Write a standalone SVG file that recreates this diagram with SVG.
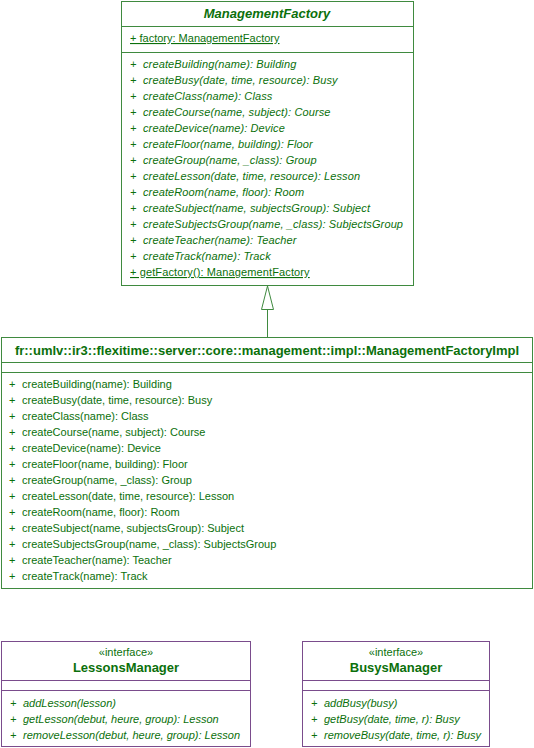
<svg xmlns="http://www.w3.org/2000/svg" width="534" height="748" viewBox="0 0 534 748">
<style>
.box{fill:#ffffff;stroke:#3f8a3f;stroke-width:1}
.ibox{fill:#ffffff;stroke:#7a4c8c;stroke-width:1}
.ln{stroke:#3f8a3f;stroke-width:1;fill:none}
.iln{stroke:#7a4c8c;stroke-width:1;fill:none}
text{font-family:"Liberation Sans",Arial,sans-serif;fill:#0b700b;font-size:11px}
.t{font-weight:bold;font-size:13px;text-anchor:middle}
.ti{font-weight:bold;font-style:italic;font-size:13px;text-anchor:middle}
.st{font-size:11px;text-anchor:middle}
.it{font-style:italic}
.w{letter-spacing:0.12px}
.u{text-decoration:underline}
</style>
<g id="ManagementFactory">
<rect class="box" x="121.5" y="1.5" width="292" height="284"/>
<line class="ln" x1="121.5" y1="26.5" x2="413.5" y2="26.5"/>
<line class="ln" x1="121.5" y1="52.5" x2="413.5" y2="52.5"/>
<text class="ti" x="267" y="18">ManagementFactory</text>
<text class="u" x="130" y="42">+ factory: ManagementFactory </text>
<g class="it w">
<text x="130" y="68">+</text><text x="143" y="68">createBuilding(name): Building</text>
<text x="130" y="84">+</text><text x="143" y="84">createBusy(date, time, resource): Busy</text>
<text x="130" y="100">+</text><text x="143" y="100">createClass(name): Class</text>
<text x="130" y="116">+</text><text x="143" y="116">createCourse(name, subject): Course</text>
<text x="130" y="132">+</text><text x="143" y="132">createDevice(name): Device</text>
<text x="130" y="148">+</text><text x="143" y="148">createFloor(name, building): Floor</text>
<text x="130" y="164">+</text><text x="143" y="164">createGroup(name, _class): Group</text>
<text x="130" y="180">+</text><text x="143" y="180">createLesson(date, time, resource): Lesson</text>
<text x="130" y="196">+</text><text x="143" y="196">createRoom(name, floor): Room</text>
<text x="130" y="212">+</text><text x="143" y="212">createSubject(name, subjectsGroup): Subject</text>
<text x="130" y="228">+</text><text x="143" y="228">createSubjectsGroup(name, _class): SubjectsGroup</text>
<text x="130" y="244">+</text><text x="143" y="244">createTeacher(name): Teacher</text>
<text x="130" y="260">+</text><text x="143" y="260">createTrack(name): Track</text>
</g>
<text class="u w" x="130" y="276">+  getFactory(): ManagementFactory </text>
</g>
<g id="ManagementFactoryImpl">
<rect class="box" x="1.5" y="337.5" width="531" height="251"/>
<line class="ln" x1="1.5" y1="362.5" x2="532.5" y2="362.5"/>
<line class="ln" x1="1.5" y1="372.5" x2="532.5" y2="372.5"/>
<text class="t" x="267" y="354.5">fr::umlv::ir3::flexitime::server::core::management::impl::ManagementFactoryImpl</text>
<text x="9" y="388">+</text><text x="22" y="388">createBuilding(name): Building</text>
<text x="9" y="404">+</text><text x="22" y="404">createBusy(date, time, resource): Busy</text>
<text x="9" y="420">+</text><text x="22" y="420">createClass(name): Class</text>
<text x="9" y="436">+</text><text x="22" y="436">createCourse(name, subject): Course</text>
<text x="9" y="452">+</text><text x="22" y="452">createDevice(name): Device</text>
<text x="9" y="468">+</text><text x="22" y="468">createFloor(name, building): Floor</text>
<text x="9" y="484">+</text><text x="22" y="484">createGroup(name, _class): Group</text>
<text x="9" y="500">+</text><text x="22" y="500">createLesson(date, time, resource): Lesson</text>
<text x="9" y="516">+</text><text x="22" y="516">createRoom(name, floor): Room</text>
<text x="9" y="532">+</text><text x="22" y="532">createSubject(name, subjectsGroup): Subject</text>
<text x="9" y="548">+</text><text x="22" y="548">createSubjectsGroup(name, _class): SubjectsGroup</text>
<text x="9" y="564">+</text><text x="22" y="564">createTeacher(name): Teacher</text>
<text x="9" y="580">+</text><text x="22" y="580">createTrack(name): Track</text>
</g>
<g id="LessonsManager">
<rect class="ibox" x="1.5" y="641.5" width="249" height="105"/>
<line class="iln" x1="1.5" y1="680.5" x2="250.5" y2="680.5"/>
<line class="iln" x1="1.5" y1="690.5" x2="250.5" y2="690.5"/>
<text class="st" x="126" y="656">«interface»</text>
<text class="t" x="126" y="671.5">LessonsManager</text>
<g class="it">
<text x="10" y="706.5">+</text><text x="23" y="706.5">addLesson(lesson)</text>
<text x="10" y="722.5">+</text><text x="23" y="722.5">getLesson(debut, heure, group): Lesson</text>
<text x="10" y="738.5">+</text><text x="23" y="738.5">removeLesson(debut, heure, group): Lesson</text>
</g>
</g>
<g id="BusysManager">
<rect class="ibox" x="302.5" y="641.5" width="187" height="105"/>
<line class="iln" x1="302.5" y1="680.5" x2="489.5" y2="680.5"/>
<line class="iln" x1="302.5" y1="690.5" x2="489.5" y2="690.5"/>
<text class="st" x="396" y="656">«interface»</text>
<text class="t" x="396" y="671.5">BusysManager</text>
<g class="it">
<text x="311" y="706.5">+</text><text x="324" y="706.5">addBusy(busy)</text>
<text x="311" y="722.5">+</text><text x="324" y="722.5">getBusy(date, time, r): Busy</text>
<text x="311" y="738.5">+</text><text x="324" y="738.5">removeBusy(date, time, r): Busy</text>
</g>
</g>
<g id="connectors">
<line class="ln" x1="267.5" y1="310" x2="267.5" y2="337.5"/>
<polygon class="ln" points="267.5,286 261.5,309.5 273.5,309.5"/>
</g>
</svg>
